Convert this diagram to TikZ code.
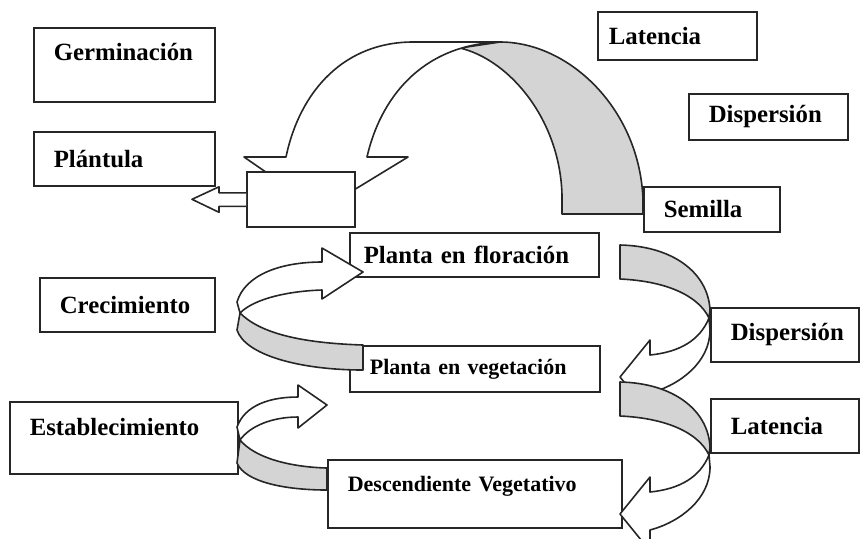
\documentclass[tikz,border=0pt]{standalone}
\usepackage{fontspec}
\setmainfont{Liberation Serif}

\begin{document}
\begin{tikzpicture}
[x=0.5pt, y=-0.5pt,
stage/.style ={rectangle, draw=black!85, line width=0.8pt, fill=white, anchor=north west, align=left, inner xsep=10pt, inner ysep=2pt, font=\fontsize{12.4}{14}\selectfont\bfseries},
stage_small/.style ={stage, font=\fontsize{11}{13}\selectfont\bfseries},
ribbon_front/.style ={draw=black!85, line width=0.8pt, fill=white, line join=round},
ribbon_back/.style ={ribbon_front, fill=black!17}]

\useasboundingbox (0,0) rectangle (860,538);

%%% Stadien %%%
\node [stage, text width=70.5pt, minimum height=37pt, text depth=13pt] (germ) at (33,27) {Germinación};
\node [stage, text width=70.5pt, minimum height=27pt] (plant) at (33,131) {Plántula};
\node [stage, inner xsep=5.5pt, text width=68.5pt, minimum height=24pt] (lat1) at (597,11) {Latencia};
\node [stage, text width=59.5pt, minimum height=23pt] (disp1) at (688,93) {Dispersión};
\node [stage, text width=48pt, minimum height=22.5pt] (sem) at (643,186) {Semilla};
\node [stage, text width=67.5pt, minimum height=27pt] (crec) at (39,277) {Crecimiento};
\node [stage, text width=94pt, minimum height=36pt, text depth=11pt] (estab) at (9,401) {Establecimiento};
\node [stage, inner xsep=7pt, text width=110.5pt, minimum height=22pt] (flor) at (349,232) {Planta en floración};
\node [stage_small, text width=105pt, minimum height=23pt] (veg) at (349,345) {Planta en vegetación};
\node [stage_small, text width=127pt, minimum height=34pt, text depth=10pt] (desc) at (327,459) {Descendiente Vegetativo};
\node [stage, text width=54pt, minimum height=27pt] (disp2) at (710,307) {\mbox{Dispersión}};
\node [stage, text width=54pt, minimum height=27pt] (lat2) at (710,398) {Latencia};

%%% Bogen oben %%%
\draw [ribbon_back] (500,42) .. controls (570,42) and (640,110) .. (643,200) -- (643,214) -- (562,214) -- (562,195) .. controls (560,120) and (510,60) .. (460,48) -- cycle;
\draw [ribbon_front] (286,157) .. controls (300,90) and (345,42) .. (413,42) -- (500,42) .. controls (420,45) and (380,100) .. (367,157) -- (408,157) -- (321,210) -- (244,157) -- cycle;
\node [stage, minimum width=54pt, minimum height=27.5pt] (blank) at (246,171) {};
\draw [ribbon_front] (blank.west) ++(0,-6.5) -- ++(-27,0) -- ++(0,-6) -- ++(-27,12.5) -- ++(27,13) -- ++(0,-6) -- ++(27,0);

%%% Pfeile links %%%
\draw [ribbon_front] (237,302) .. controls (245,275) and (280,262) .. (322,262) -- (322,248) -- (363,272) -- (322,299) -- (322,290) .. controls (290,291) and (255,298) .. (240,313) -- cycle;
\draw [ribbon_back] (240,313) .. controls (260,333) and (300,343) .. (363,345) -- (363,370) .. controls (300,370) and (245,355) .. (237,330) -- cycle;
\draw [ribbon_front] (237,427) .. controls (245,405) and (270,397) .. (298,397) -- (298,385) -- (327,405) -- (298,428) -- (298,417) .. controls (272,417) and (250,426) .. (240,440) -- cycle;
\draw [ribbon_back] (240,440) .. controls (255,458) and (290,467) .. (327,468) -- (327,490) .. controls (285,490) and (245,482) .. (237,463) -- cycle;

%%% Pfeile rechts %%%
\foreach \dy in {0,137}{
\draw [ribbon_front] (709,318+\dy) .. controls (700,340+\dy) and (680,352+\dy) .. (650,355+\dy) -- (650,340+\dy) -- (620,377+\dy) -- (650,414+\dy) -- (650,393+\dy) .. controls (680,385+\dy) and (710,362+\dy) .. (710,330+\dy) -- cycle;
\draw [ribbon_back] (620,245+\dy) .. controls (672,246+\dy) and (708,272+\dy) .. (710,310+\dy) -- (709,318+\dy) .. controls (698,295+\dy) and (665,281+\dy) .. (620,279+\dy) -- cycle;
}

\end{tikzpicture}
\end{document}
